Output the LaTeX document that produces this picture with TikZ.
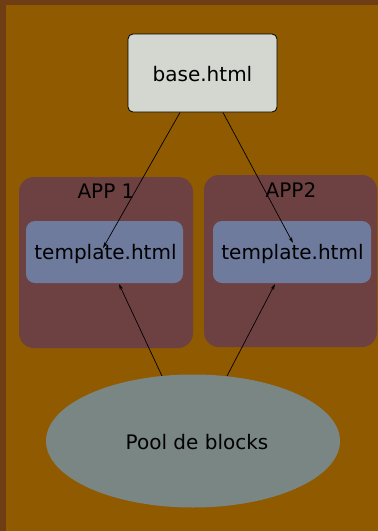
\documentclass[tikz,border=0pt]{standalone}
\usepackage{fontspec}
\setmainfont{DejaVu Sans}
\usetikzlibrary{shapes.geometric,arrows.meta}
\definecolor{bordbrown}{HTML}{6F3D14}
\definecolor{bgbrown}{HTML}{8F5A00}
\definecolor{appfill}{HTML}{6D4141}
\definecolor{tplfill}{HTML}{6E7B9D}
\definecolor{poolfill}{HTML}{7A8683}
\definecolor{basefill}{HTML}{D3D7CF}
\tikzset{
  lbl/.style={font=\fontsize{20}{24}\selectfont, text=black},
  appbox/.style={rectangle, rounded corners=15pt, fill=appfill, inner sep=0pt},
  tplbox/.style={rectangle, rounded corners=9pt, fill=tplfill, inner sep=0pt},
  conn/.style={draw=black, line width=0.7pt, -{Stealth[length=6pt,width=3.5pt]}}
}
\begin{document}
\begin{tikzpicture}[x=1pt,y=-1pt]
\useasboundingbox (0,0) rectangle (378,531);
\fill[bordbrown] (0,0) rectangle (378,531);
\fill[bgbrown] (6,5) rectangle (378,531);
\node[rectangle, rounded corners=5pt, draw=black, line width=0.8pt, fill=basefill,
  minimum width=149pt, minimum height=78pt, inner sep=0pt] (base) at (202.5,73) {};
\node[lbl] (baselbl) at (202.5,74) {base.html};
\node[appbox, minimum width=174pt, minimum height=171pt] (app1) at (106,262.5) {};
\node[appbox, minimum width=173pt, minimum height=172pt] (app2) at (290.5,261) {};
\node[lbl] (app1lbl) at (106,191) {APP 1};
\node[lbl] (app2lbl) at (291,190) {APP2};
\node[tplbox, minimum width=157pt, minimum height=62pt] (t1) at (104.5,252) {};
\node[tplbox, minimum width=158pt, minimum height=62pt] (t2) at (292,252) {};
\node[lbl] (t1lbl) at (105.5,253.5) {template.html};
\node[lbl] (t2lbl) at (292.5,253.5) {template.html};
\node[ellipse, fill=poolfill, minimum width=294pt, minimum height=133pt, inner sep=0pt] (pool) at (193,441) {};
\node[lbl] (poollbl) at (197,442) {Pool de blocks};
\coordinate (bs1) at (180,112.5);
\coordinate (bs2) at (223,112.5);
\coordinate (t1in) at (103,248);
\coordinate (t2in) at (293,243);
\coordinate (t1b) at (119,284);
\coordinate (t2b) at (275,284);
\coordinate (p1) at (162,376);
\coordinate (p2) at (227,376);
\draw[conn] (bs1) -- (t1in);
\draw[conn] (bs2) -- (t2in);
\draw[conn] (p1) -- (t1b);
\draw[conn] (p2) -- (t2b);
\end{tikzpicture}
\end{document}
